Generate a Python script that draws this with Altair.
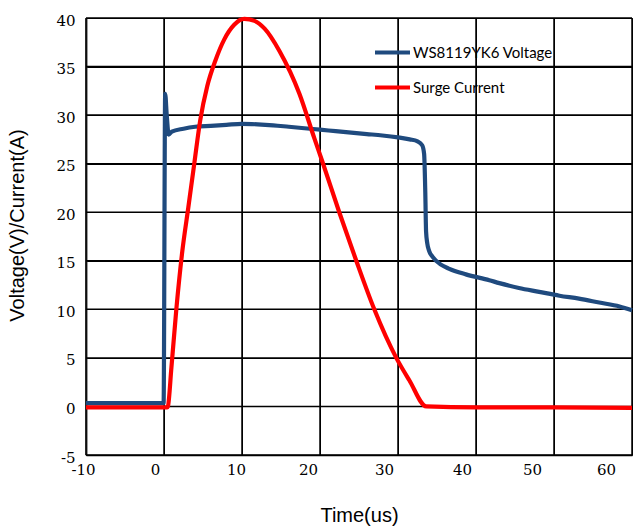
import altair as alt
import pandas as pd

# ---- data ----
series_names = ["WS8119YK6 Voltage", "Surge Current"]
series_colors = ["#1f4a7e", "#ff0000"]

volt_t = [-10, -5, -0.05, 0.15, 0.35, 0.6, 1.0, 2.5, 4, 6, 8, 10, 12, 14, 16, 18, 20,
          22, 24, 26, 28, 30, 31.5, 32.5, 33.1, 33.35, 33.5, 33.6, 33.75, 34.0, 34.44,
          35.5, 36.5, 38.7, 41.7, 43, 45.5, 48.1, 50.7, 53.2, 55.8, 58.4, 60]
volt_v = [0.35, 0.35, 0.35, 32.2, 30.0, 28.0, 28.3, 28.6, 28.8, 28.9, 29.0, 29.1, 29.05,
          28.95, 28.8, 28.65, 28.5, 28.35, 28.2, 28.05, 27.9, 27.7, 27.5, 27.3, 26.9,
          26.0, 22.0, 18.0, 16.8, 16.0, 15.4, 14.6, 14.2, 13.6, 13.0, 12.7, 12.2, 11.8,
          11.4, 11.1, 10.7, 10.3, 9.9]

curr_t = [-10, -5, 0.4, 0.5, 0.95, 1.58, 2.35, 3.12, 3.88, 4.65, 5.55, 6.58, 7.73, 9.0,
          10.3, 11.6, 12.9, 14.8, 17.36, 19.28, 20.31, 22.47, 24.65, 26.96, 29.78, 31.45,
          33.63, 40, 50, 60]
curr_v = [-0.1, -0.1, -0.1, 0.0, 4.0, 10.0, 16.0, 20.5, 25.0, 29.5, 33.0, 35.6, 37.8, 39.3,
          39.9, 39.7, 38.9, 36.6, 32.2, 27.6, 25.2, 20.0, 15.0, 10.0, 5.0, 2.7,
          0.0, -0.1, -0.1, -0.15]

x_ticks = [-10, 0, 10, 20, 30, 40, 50, 60]
y_ticks = [-5, 0, 5, 10, 15, 20, 25, 30, 35, 40]
x_label_shift = [-3, -9, -6, -12, -14, -14, -22, -26]

vdf = pd.DataFrame({"t": volt_t, "v": volt_v, "series": series_names[0]})
cdf = pd.DataFrame({"t": curr_t, "v": curr_v, "series": series_names[1]})
df = pd.concat([vdf, cdf], ignore_index=True)
xgrid_df = pd.DataFrame({"t": x_ticks})
ygrid_df = pd.DataFrame({"v": y_ticks})

label_offset = {
    "condition": [{"test": f"datum.value == {tv}", "value": sh}
                  for tv, sh in zip(x_ticks, x_label_shift)],
    "value": 0,
}
hyphen_expr = "replace(datum.label, '\u2212', '-')"
serif = "DejaVu Serif"

x_enc = alt.X(
    "t:Q",
    scale=alt.Scale(domain=[-10, 60], nice=False, zero=False),
    axis=alt.Axis(
        values=x_ticks, title="Time(us)", labelExpr=hyphen_expr, grid=True,
        gridColor="#000000", gridWidth=1,
        ticks=False, labelFlush=False,
        labelFont=serif, labelFontSize=15, labelColor="black",
        labelPadding=7, labelOffset=label_offset,
        titleFont="Liberation Sans", titleFontSize=20, titleFontWeight="normal",
        titleColor="black", titlePadding=28,
        domainColor="black", domainWidth=1.5,
    ),
)
y_enc = alt.Y(
    "v:Q",
    scale=alt.Scale(domain=[-5, 40], nice=False, zero=False),
    axis=alt.Axis(
        values=y_ticks, title="Voltage(V)/Current(A)", labelExpr=hyphen_expr, grid=True,
        gridColor="#000000", gridWidth=1,
        ticks=False, labelFlush=False,
        labelFont=serif, labelFontSize=15, labelColor="black",
        labelPadding=11, labelOffset=2,
        titleFont="Liberation Sans", titleFontSize=20, titleFontWeight="normal",
        titleColor="black", titlePadding=28, titleY=207,
        domainColor="#3a3a3a", domainWidth=2,
    ),
)
color_enc = alt.Color(
    "series:N",
    scale=alt.Scale(domain=series_names, range=series_colors),
    legend=alt.Legend(
        title=None, orient="none", legendX=287, legendY=15,
        symbolType="stroke", symbolStrokeWidth=4, symbolSize=1225,
        labelFont="Lato", labelFontSize=15, labelColor="black",
        labelOffset=1, rowPadding=7, padding=0,
    ),
)

grid_x = alt.Chart(xgrid_df).mark_rule(color="black", strokeWidth=1.5).encode(x=x_enc)
grid_y = alt.Chart(ygrid_df).mark_rule(color="black", strokeWidth=1.5).encode(y=y_enc)
lines = (
    alt.Chart(df)
    .mark_line(strokeWidth=4.2, interpolate="monotone")
    .encode(x=x_enc, y=y_enc, color=color_enc, detail="series:N")
)

chart = (
    alt.layer(grid_x, grid_y, lines)
    .properties(
        width=546, height=437,
        autosize=alt.AutoSizeParams(type="none"),
        padding={"left": 86, "top": 18, "right": 1, "bottom": 72},
        background="white",
    )
    .configure_view(strokeWidth=0)
)

chart.save("out.html", embed_options={"renderer": "svg", "actions": False})
